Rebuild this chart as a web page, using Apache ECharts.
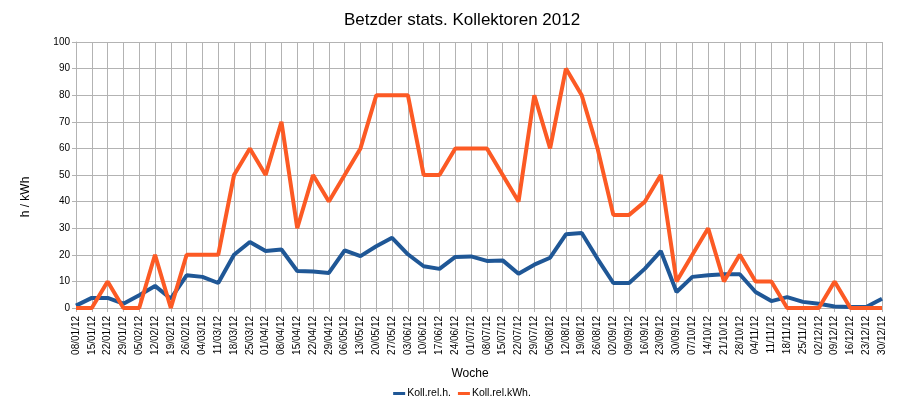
<!DOCTYPE html>
<html><head><meta charset="utf-8">
<script src="https://cdn.jsdelivr.net/npm/echarts@6/dist/echarts.min.js"></script>
<style>html,body{margin:0;padding:0;background:#fff}#c{width:924px;height:415px}</style>
</head><body><div id="c"></div>
<script>
const weeks = ["08/01/12","15/01/12","22/01/12","29/01/12","05/02/12","12/02/12","19/02/12","26/02/12","04/03/12","11/03/12","18/03/12","25/03/12","01/04/12","08/04/12","15/04/12","22/04/12","29/04/12","06/05/12","13/05/12","20/05/12","27/05/12","03/06/12","10/06/12","17/06/12","24/06/12","01/07/12","08/07/12","15/07/12","22/07/12","29/07/12","05/08/12","12/08/12","19/08/12","26/08/12","02/09/12","09/09/12","16/09/12","23/09/12","30/09/12","07/10/12","14/10/12","21/10/12","28/10/12","04/11/12","11/11/12","18/11/12","25/11/12","02/12/12","09/12/12","16/12/12","23/12/12","30/12/12"];
const kollRelH = [0.9,3.8,3.8,1.6,4.8,8.3,3.5,12.3,11.7,9.4,20,24.8,21.4,22,13.9,13.7,13.2,21.7,19.5,23.2,26.4,20.2,15.7,14.7,19.2,19.4,17.7,17.9,12.9,16.3,18.9,27.7,28.2,18.5,9.4,9.4,14.8,21.4,6,11.7,12.3,12.7,12.7,6,2.6,4.1,2.3,1.6,0.6,0.4,0.4,3.5];
const kollRelKWh = [0,0,10,0,0,20,0,20,20,20,50,60,50,70,30,50,40,50,60,80,80,80,50,50,60,60,60,50,40,80,60,90,80,60,35,35,40,50,10,20,30,10,20,10,10,0,0,0,10,0,0,0];
const yTicks = {min:0, max:100, interval:10};
const font = "Liberation Sans, Arial, sans-serif";
const chart = echarts.init(document.getElementById('c'));
chart.setOption({
  animation:false,
  textStyle:{fontFamily:font},
  title:{text:"Betzder stats. Kollektoren 2012",left:'center',top:7,textStyle:{fontFamily:font,fontSize:17,fontWeight:'normal',color:'#000'}},
  grid:{left:76,right:42,top:42,bottom:107},
  legend:{bottom:11,left:'center',itemWidth:12,itemHeight:3,itemGap:7,icon:'rect',textStyle:{fontFamily:font,fontSize:10.5,color:'#000',padding:[0,0,0,-3]},
    data:[{name:'Koll.rel.h.'},{name:'Koll.rel.kWh.'}]},
  xAxis:{type:'category',data:weeks,boundaryGap:false,
    name:'Woche',nameLocation:'middle',nameGap:60,nameTextStyle:{fontFamily:font,fontSize:12,color:'#000',padding:[0,18,0,0]},
    axisLine:{lineStyle:{color:'#b3b3b3'}},
    axisTick:{show:true,length:4,alignWithLabel:true,lineStyle:{color:'#b3b3b3'}},
    axisLabel:{interval:0,rotate:90,fontSize:10,color:'#000',fontFamily:font,margin:8},
    splitLine:{show:true,interval:0,lineStyle:{color:'#b3b3b3',width:1}}},
  yAxis:{type:'value',min:yTicks.min,max:yTicks.max,interval:yTicks.interval,
    name:'h / kWh',nameLocation:'middle',nameGap:44,nameRotate:90,nameTextStyle:{fontFamily:font,fontSize:12,color:'#000',padding:[0,44,0,0]},
    axisLine:{show:true,lineStyle:{color:'#b3b3b3'}},
    axisTick:{show:true,length:4,lineStyle:{color:'#b3b3b3'}},
    axisLabel:{fontSize:10,color:'#000',fontFamily:font,margin:6},
    splitLine:{show:true,lineStyle:{color:'#b3b3b3',width:1}}},
  series:[
    {name:'Koll.rel.h.',type:'line',data:kollRelH,showSymbol:false,symbol:'none',lineStyle:{width:4,color:'#1f5796'},itemStyle:{color:'#1f5796'},z:2},
    {name:'Koll.rel.kWh.',type:'line',data:kollRelKWh,showSymbol:false,symbol:'none',lineStyle:{width:4,color:'#fc5a24'},itemStyle:{color:'#fc5a24'},z:3}
  ]
});
</script></body></html>
